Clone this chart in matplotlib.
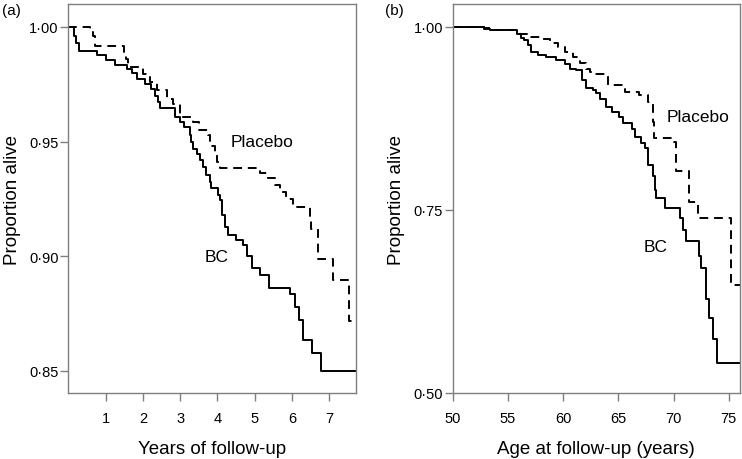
import matplotlib.pyplot as plt
from matplotlib.ticker import FuncFormatter

plt.rcParams['font.family'] = ['Liberation Sans', 'DejaVu Sans']

# panel (a): years of follow-up
bc_years = [0, 0.15, 0.22, 0.30, 0.76, 1.00, 1.25, 1.57, 1.70, 1.83, 2.07, 2.21, 2.32, 2.40, 2.45,
            2.86, 2.99, 3.10, 3.26, 3.30, 3.35, 3.44, 3.52, 3.62, 3.70, 3.80, 3.84, 4.02, 4.07,
            4.11, 4.20, 4.29, 4.51, 4.69, 4.80, 4.92, 5.14, 5.39, 5.94, 6.08, 6.18, 6.30, 6.53,
            6.79, 7.72]
bc_surv = [1.0, 0.996, 0.993, 0.9897, 0.9878, 0.9857, 0.9836, 0.9817, 0.980, 0.9774, 0.975, 0.973,
           0.970, 0.9674, 0.9648, 0.9607, 0.9585, 0.9564, 0.953, 0.950, 0.947, 0.9448, 0.9419,
           0.939, 0.9353, 0.9324, 0.9296, 0.9266, 0.9244, 0.918, 0.913, 0.9092, 0.907, 0.9049,
           0.900, 0.8948, 0.892, 0.8863, 0.8834, 0.878, 0.8722, 0.8636, 0.8578, 0.8498, 0.8498]

pl_years = [0, 0.58, 0.65, 0.72, 1.50, 1.55, 1.61, 2.01, 2.18, 2.37, 2.64, 2.80, 2.99, 3.35, 3.50,
            3.75, 3.80, 3.93, 4.00, 4.07, 5.14, 5.35, 5.55, 5.68, 5.85, 6.03, 6.48, 6.52, 6.70,
            7.10, 7.52, 7.72]
pl_surv = [1.0, 0.998, 0.9962, 0.9919, 0.989, 0.9861, 0.9825, 0.9796, 0.976, 0.9727, 0.9687,
           0.9665, 0.9607, 0.9585, 0.955, 0.9527, 0.948, 0.9448, 0.9411, 0.9387, 0.9365, 0.934,
           0.9313, 0.928, 0.9248, 0.9216, 0.9165, 0.9121, 0.899, 0.8897, 0.872, 0.872]

# panel (b): age at follow-up
bc_age = [50, 52.8, 53.4, 55.8, 56.2, 56.5, 56.8, 57.1, 57.7, 58.5, 59.4, 60.2, 60.6, 61.2, 61.7,
          62.1, 62.7, 63.0, 63.3, 63.9, 64.4, 65.1, 65.4, 66.2, 66.5, 67.1, 67.4, 67.7, 68.1,
          68.3, 68.4, 69.2, 70.6, 70.9, 71.1, 72.3, 72.45, 72.9, 73.2, 73.6, 73.9, 76.0]
bc_age_surv = [1.0, 0.997, 0.995, 0.9905, 0.985, 0.9814, 0.9746, 0.9656, 0.961, 0.9588, 0.9542,
               0.9497, 0.943, 0.9406, 0.927, 0.9158, 0.9135, 0.909, 0.902, 0.891, 0.884, 0.877,
               0.868, 0.861, 0.85, 0.841, 0.834, 0.8116, 0.7958, 0.7776, 0.766, 0.7527, 0.739,
               0.723, 0.7075, 0.687, 0.6703, 0.6285, 0.603, 0.5738, 0.5412, 0.5412]

pl_age = [50, 52.8, 53.4, 56.1, 56.7, 57.9, 58.8, 59.5, 60.2, 60.9, 61.5, 62.1, 62.4, 62.7, 64.1,
          65.6, 66.9, 67.7, 68.1, 68.2, 70.0, 70.2, 71.4, 72.2, 75.2, 76.0]
pl_age_surv = [1.0, 0.998, 0.995, 0.99, 0.986, 0.983, 0.978, 0.972, 0.9656, 0.9588, 0.95, 0.943,
               0.938, 0.936, 0.920, 0.911, 0.9066, 0.8976, 0.87, 0.848, 0.843, 0.8026, 0.761,
               0.7387, 0.647, 0.647]

dot_fmt = FuncFormatter(lambda v, p: f"{v:.2f}".replace(".", "\u00b7"))
grey = "#7f7f7f"

fig = plt.figure(figsize=(7.42, 4.6), dpi=100)
ax1 = fig.add_axes([0.092, 0.1435, 0.388, 0.8455])
ax2 = fig.add_axes([0.610, 0.1435, 0.387, 0.8455])

ax1.step(bc_years, bc_surv, where='post', color='black', lw=1.4)
ax1.step(pl_years, pl_surv, where='post', color='black', lw=1.4, linestyle=(0, (4.5, 3)))
ax1.set_xlim(0, 7.72)
ax1.set_ylim(0.8404, 1.01)
ax1.set_xticks([1, 2, 3, 4, 5, 6, 7])
ax1.set_yticks([0.85, 0.90, 0.95, 1.00])
ax1.text(5.19, 0.95, "Placebo", fontsize=12.5, ha='center', va='center')
ax1.text(3.98, 0.90, "BC", fontsize=12.5, ha='center', va='center')
ax1.set_xlabel("Years of follow-up", fontsize=13.5, labelpad=11)

ax2.step(bc_age, bc_age_surv, where='post', color='black', lw=1.4)
ax2.step(pl_age, pl_age_surv, where='post', color='black', lw=1.4, linestyle=(0, (4.5, 3)))
ax2.set_xlim(50, 76)
ax2.set_ylim(0.5, 1.031)
ax2.set_xticks([50, 55, 60, 65, 70, 75])
ax2.set_yticks([0.50, 0.75, 1.00])
ax2.text(72.2, 0.878, "Placebo", fontsize=12.5, ha='center', va='center')
ax2.text(68.4, 0.70, "BC", fontsize=12.5, ha='center', va='center')
ax2.set_xlabel("Age at follow-up (years)", fontsize=13.5, labelpad=11)

for ax in (ax1, ax2):
    ax.yaxis.set_major_formatter(dot_fmt)
    ax.set_ylabel("Proportion alive", fontsize=13.5, labelpad=6)
    ax.tick_params(direction='out', length=6, width=1, color=grey, labelsize=10.5)
    ax.tick_params(axis='x', pad=7)
    ax.tick_params(axis='y', pad=1)
    for s in ax.spines.values():
        s.set_color(grey)
        s.set_linewidth(1)

fig.text(0.003, 0.975, "(a)", fontsize=11, va='center')
fig.text(0.519, 0.975, "(b)", fontsize=11, va='center')

fig.savefig("out.png", dpi=100)
